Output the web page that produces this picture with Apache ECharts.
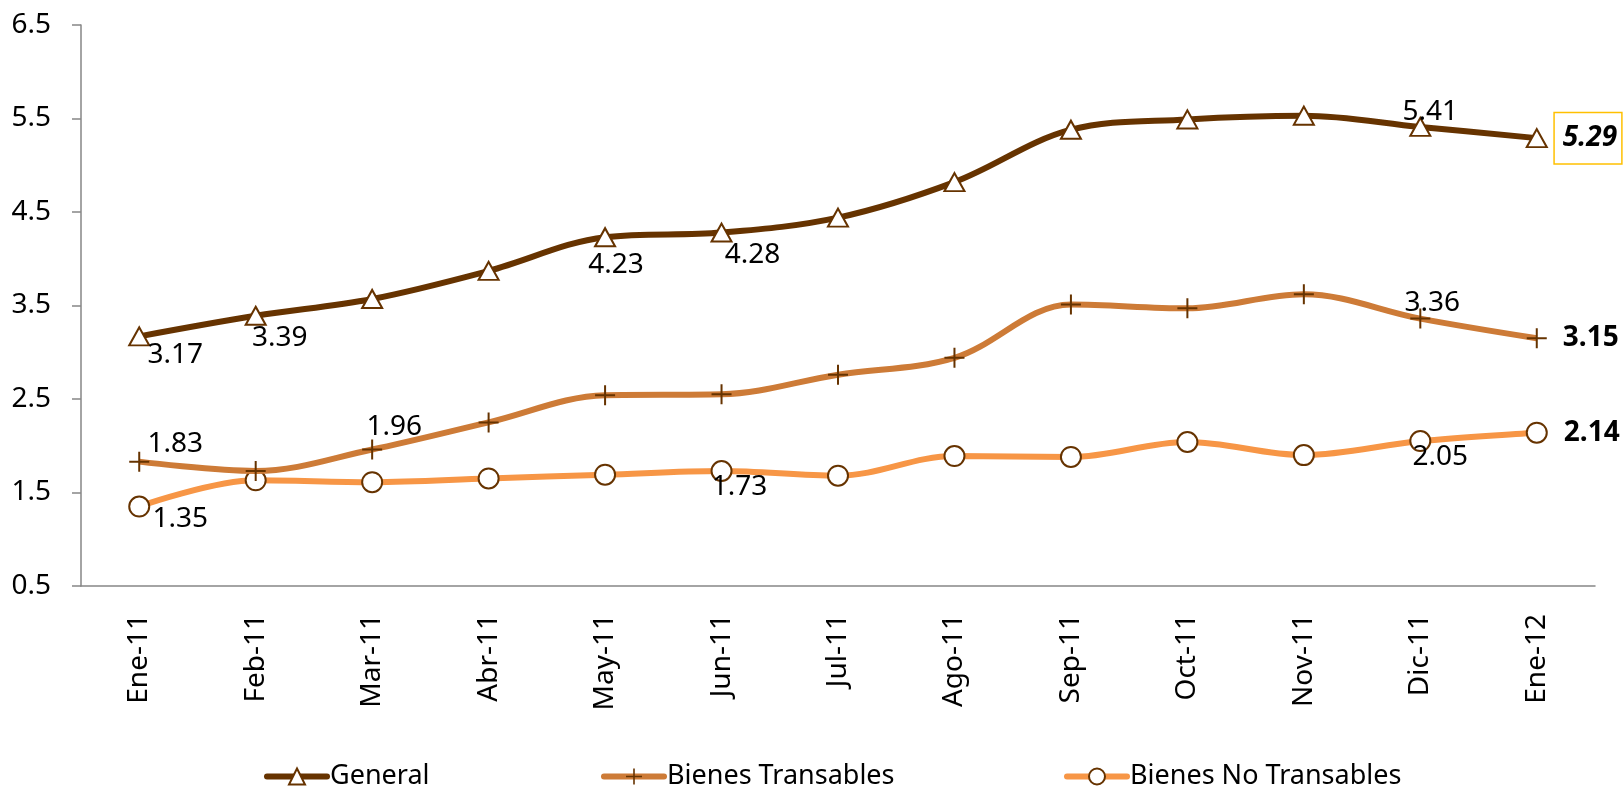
<!DOCTYPE html>
<html>
<head>
    <meta charset="utf-8">
    <title>Inflación</title>
    <script src="https://cdn.jsdelivr.net/npm/echarts@6/dist/echarts.min.js"></script>
    <style>
        html, body { margin: 0; padding: 0; background: #fff; }
        #container { width: 1623px; height: 789px; }
    </style>
</head>
<body>
<div id="container"></div>
<script>
    var meses = ['Ene-11', 'Feb-11', 'Mar-11', 'Abr-11', 'May-11', 'Jun-11', 'Jul-11',
        'Ago-11', 'Sep-11', 'Oct-11', 'Nov-11', 'Dic-11', 'Ene-12'];
    var general = [3.17, 3.39, 3.57, 3.87, 4.23, 4.28, 4.44, 4.82, 5.38, 5.49, 5.53, 5.41, 5.29];
    var transables = [1.83, 1.73, 1.96, 2.25, 2.54, 2.55, 2.76, 2.94, 3.51, 3.47, 3.62, 3.36, 3.15];
    var noTransables = [1.35, 1.63, 1.61, 1.65, 1.69, 1.73, 1.68, 1.89, 1.88, 2.04, 1.90, 2.05, 2.14];
    var yTicks = [0.5, 1.5, 2.5, 3.5, 4.5, 5.5, 6.5];

    var fuente = 'Noto Sans';
    var plus = 'path://M9,0h2v9h9v2h-9v9h-2v-9h-9v-2h9z';
    var colores = { general: '#663300', trans: '#CD7B37', noTrans: '#F79646' };

    // etiquetas visibles: indice -> desplazamiento
    function conEtiquetas(valores, marcas) {
        return valores.map(function (v, i) {
            var m = marcas[i];
            if (!m) return v;
            return {
                value: v,
                label: Object.assign({
                    show: true,
                    position: 'inside',
                    offset: m.off,
                    fontFamily: fuente,
                    fontSize: 28,
                    color: '#000',
                    formatter: function (p) { return p.value.toFixed(2); }
                }, m.extra || {})
            };
        });
    }

    var dom = document.getElementById('container');
    var myChart = echarts.init(dom);

    var option = {
        backgroundColor: '#fff',
        animation: false,
        grid: { left: 81, right: 28, top: 25, bottom: 203 },
        legend: [
            { data: [{ name: 'General', lineStyle: { width: 6, color: colores.general, cap: 'round' } }], left: 259, top: 758 },
            { data: [{ name: 'Bienes Transables', lineStyle: { width: 6, color: colores.trans, cap: 'round' } }], left: 596, top: 758 },
            { data: [{ name: 'Bienes No Transables', lineStyle: { width: 6, color: colores.noTrans, cap: 'round' } }], left: 1059, top: 758 }
        ].map(function (l) {
            return Object.assign({
                itemWidth: 60, itemHeight: 20, itemGap: 4,
                textStyle: { fontFamily: fuente, fontSize: 27, color: '#000', padding: [0, 0, 0, -2] }
            }, l);
        }),
        xAxis: {
            type: 'category',
            data: meses,
            boundaryGap: true,
            axisLine: { lineStyle: { color: '#868686', width: 1.5 } },
            axisTick: { inside: true, length: 10, lineStyle: { color: '#868686', width: 1.5 } },
            axisLabel: { rotate: 90, margin: 28, fontFamily: fuente, fontSize: 28, color: '#000' }
        },
        yAxis: {
            type: 'value',
            min: yTicks[0],
            max: yTicks[yTicks.length - 1],
            interval: 1,
            splitLine: { show: false },
            axisLine: { show: true, lineStyle: { color: '#868686', width: 1.5 } },
            axisTick: { show: true, length: 9, lineStyle: { color: '#868686', width: 1.5 } },
            axisLabel: {
                margin: 30, fontFamily: fuente, fontSize: 28, color: '#000',
                formatter: function (v) { return v.toFixed(1); }
            }
        },
        series: [
            {
                name: 'General',
                type: 'line',
                smooth: 0.35,
                symbol: 'triangle',
                symbolSize: [20, 18],
                z: 4,
                lineStyle: { color: colores.general, width: 6 },
                itemStyle: { color: '#fff', borderColor: '#663300', borderWidth: 2 },
                data: conEtiquetas(general, {
                    0: { off: [36, 19] },
                    1: { off: [24, 22] },
                    4: { off: [11, 28] },
                    5: { off: [31, 22] },
                    11: { off: [10, -15] },
                    12: {
                        off: [0, 0],
                        extra: {
                            position: 'right', distance: 7,
                            fontWeight: 'bold', fontStyle: 'italic',
                            borderColor: '#FFC000', borderWidth: 1.5,
                            backgroundColor: '#fff', padding: [11, 4, 11, 8]
                        }
                    }
                })
            },
            {
                name: 'Bienes Transables',
                type: 'line',
                smooth: 0.35,
                symbol: plus,
                symbolSize: 20,
                z: 3,
                lineStyle: { color: colores.trans, width: 6 },
                itemStyle: { color: '#663300', borderWidth: 0 },
                data: conEtiquetas(transables, {
                    0: { off: [36, -18] },
                    2: { off: [22, -22] },
                    11: { off: [12, -16] },
                    12: {
                        off: [0, 0],
                        extra: { position: 'right', distance: 16, fontWeight: 'bold', backgroundColor: '#fff' }
                    }
                })
            },
            {
                name: 'Bienes No Transables',
                type: 'line',
                smooth: 0.35,
                symbol: 'circle',
                symbolSize: 20,
                z: 2,
                lineStyle: { color: colores.noTrans, width: 6 },
                itemStyle: { color: '#fff', borderColor: '#663300', borderWidth: 2 },
                data: conEtiquetas(noTransables, {
                    0: { off: [41, 13] },
                    5: { off: [18, 16] },
                    11: { off: [20, 16] },
                    12: {
                        off: [0, 0],
                        extra: { position: 'right', distance: 16, fontWeight: 'bold' }
                    }
                })
            }
        ]
    };

    myChart.setOption(option);
</script>
</body>
</html>
